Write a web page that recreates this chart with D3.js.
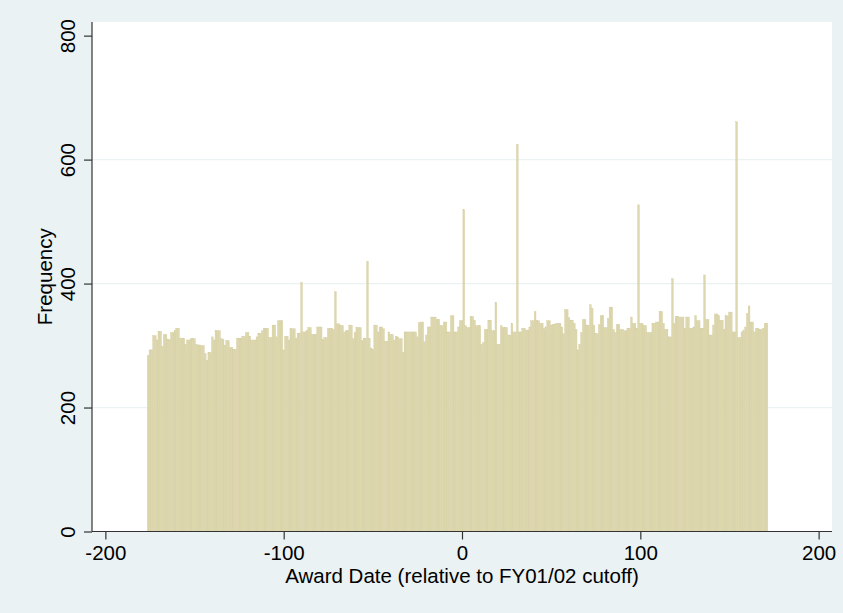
<!DOCTYPE html>
<html>
<head>
<meta charset="utf-8">
<script src="https://cdn.jsdelivr.net/npm/d3@7"></script>
<style>
  html, body { margin: 0; padding: 0; background: #eaf2f3; }
  svg { display: block; }
  text { font-family: "Liberation Sans", Arial, Helvetica, sans-serif; fill: #000; }
</style>
</head>
<body>
<svg id="chart" width="843" height="613"></svg>
<script>
// ---- Data ----
const firstDay = -176;
const lastDay = 171;
const frequencies = [
  284,293,293,316,316,309,323,323,299,318,
  318,310,310,321,321,324,328,328,312,312,
  312,302,309,309,311,311,311,302,301,301,
  300,300,287,276,289,289,314,309,324,324,
  324,311,310,300,308,308,297,297,294,294,
  312,312,312,315,315,321,321,315,309,309,
  309,314,320,320,324,328,328,328,313,313,
  333,333,314,340,340,340,293,315,315,309,
  327,327,327,312,320,320,402,322,322,324,
  329,329,318,318,318,330,330,330,310,313,
  313,328,328,328,326,387,335,335,332,332,
  322,324,324,333,333,311,321,329,329,329,
  308,312,312,436,312,296,294,333,333,322,
  330,330,327,307,307,322,318,318,309,315,
  314,311,311,289,322,322,322,322,322,322,
  322,314,337,338,338,306,317,330,330,346,
  346,346,342,342,333,332,338,338,322,322,
  348,348,322,322,330,340,340,519,332,329,
  329,347,347,341,332,332,332,302,305,326,
  326,341,341,324,324,370,302,302,332,329,
  329,329,317,317,336,322,322,625,322,322,
  328,328,325,325,330,340,340,355,340,340,
  336,336,327,330,340,340,333,334,334,336,
  336,336,330,319,358,358,345,341,341,336,
  326,293,302,321,342,342,333,333,366,360,
  333,319,319,334,348,348,329,329,344,362,
  362,326,321,334,334,326,326,324,324,328,
  328,346,336,336,328,527,336,336,332,332,
  321,321,321,336,336,338,338,355,355,336,
  326,326,314,314,408,336,347,347,346,346,
  346,328,346,346,328,328,330,348,340,340,
  328,328,414,342,342,317,317,333,351,351,
  348,341,341,326,348,348,354,354,322,322,
  661,313,313,322,324,330,352,364,338,338,
  322,328,328,326,326,328,336,336
];
const days = d3.range(firstDay, lastDay + 1);
const xTicks = [-200, -100, 0, 100, 200];
const yTicks = [0, 200, 400, 600, 800];
const gridValues = [200, 400, 600];
const xTitle = "Award Date (relative to FY01/02 cutoff)";
const yTitle = "Frequency";

// ---- Layout ----
const svg = d3.select("#chart");
const plot = { left: 92, right: 832, top: 22, bottom: 531.5 };

svg.append("rect").attr("x", 0).attr("y", 0).attr("width", 843).attr("height", 613).attr("fill", "#eaf2f3");
svg.append("rect")
  .attr("x", plot.left).attr("y", plot.top)
  .attr("width", plot.right - plot.left).attr("height", plot.bottom - plot.top)
  .attr("fill", "#ffffff");

const x = d3.scaleLinear().domain([-207.5, 207.5]).range([plot.left, plot.right]);
const y = d3.scaleLinear().domain([0, 822]).range([plot.bottom, plot.top]);

// grid
svg.append("g").selectAll("line").data(gridValues).join("line")
  .attr("x1", plot.left).attr("x2", plot.right)
  .attr("y1", d => y(d)).attr("y2", d => y(d))
  .attr("stroke", "#eaf2f3").attr("stroke-width", 1.2);

// bars
const data = days.map((d, i) => ({ day: d, n: frequencies[i] }));
svg.append("g").selectAll("rect").data(data).join("rect")
  .attr("x", d => x(d.day - 0.5))
  .attr("width", d => x(d.day + 0.5) - x(d.day - 0.5))
  .attr("y", d => y(d.n))
  .attr("height", d => y(0) - y(d.n))
  .attr("fill", "#ddd7ae")
  .attr("stroke", "#d3cc9f")
  .attr("stroke-width", 0.35);

// axes
const xAxis = d3.axisBottom(x).tickValues(xTicks).tickSize(8).tickPadding(4)
  .tickFormat(d => String(d));
const gx = svg.append("g").attr("transform", `translate(0,${plot.bottom})`).call(xAxis);
gx.select(".domain").attr("d", `M${plot.left},0H${plot.right}`).attr("stroke", "#333").attr("stroke-width", 1.2);
gx.selectAll(".tick line").attr("stroke", "#333").attr("stroke-width", 1.2);
gx.selectAll(".tick text")
  .attr("font-size", "20.5px")
  .attr("font-family", "'Liberation Sans', Arial, Helvetica, sans-serif")
  .attr("fill", "#000")
  .attr("dy", null).attr("y", 28.5);

const yAxis = d3.axisLeft(y).tickValues(yTicks).tickSize(8).tickPadding(0)
  .tickFormat(d => String(d));
const gy = svg.append("g").attr("transform", `translate(${plot.left},0)`).call(yAxis);
gy.select(".domain").attr("d", `M0,${plot.top}V${plot.bottom}`).attr("stroke", "#333").attr("stroke-width", 1.2);
gy.selectAll(".tick line").attr("stroke", "#333").attr("stroke-width", 1.2);
gy.selectAll(".tick text")
  .attr("font-size", "20.5px")
  .attr("font-family", "'Liberation Sans', Arial, Helvetica, sans-serif")
  .attr("fill", "#000")
  .attr("x", null).attr("dy", null)
  .attr("text-anchor", "middle")
  .attr("transform", "translate(-17,0) rotate(-90)");

// titles
svg.append("text")
  .attr("x", x(0) - (x(0) - 462) ).attr("y", 583)
  .attr("x", (plot.left + plot.right) / 2)
  .attr("text-anchor", "middle")
  .attr("font-size", "20.5px")
  .text(xTitle);

svg.append("text")
  .attr("transform", `translate(51.5,${(plot.top + plot.bottom) / 2}) rotate(-90)`)
  .attr("text-anchor", "middle")
  .attr("font-size", "20.5px")
  .text(yTitle);
</script>
</body>
</html>
